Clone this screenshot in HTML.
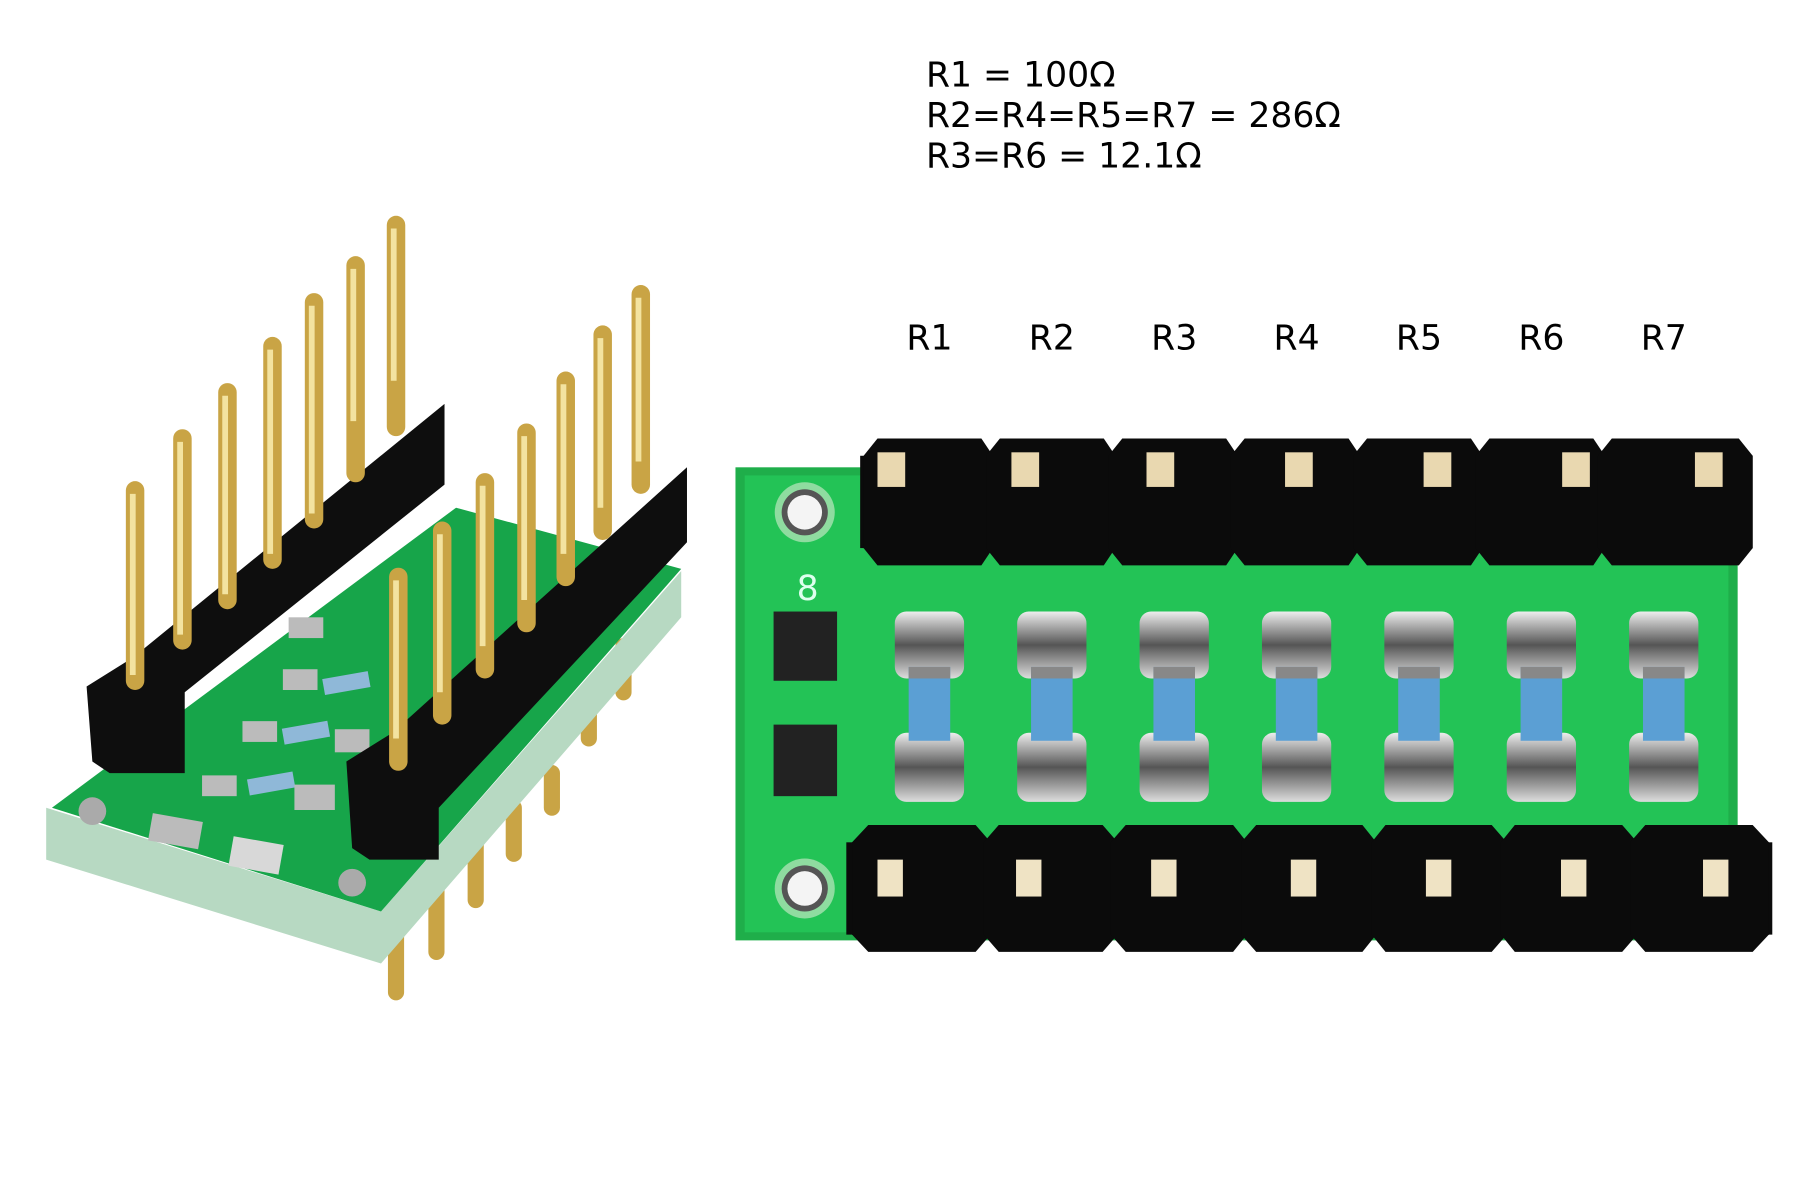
<!DOCTYPE html>
<html><head><meta charset="utf-8"><style>
html,body{margin:0;padding:0;background:#fff;width:1800px;height:1200px;overflow:hidden}
svg{display:block}
text{font-family:"DejaVu Sans","Liberation Sans",sans-serif;fill:#000}
</style></head><body>
<svg width="1800" height="1200" viewBox="0 0 1559 1040" preserveAspectRatio="none" xmlns="http://www.w3.org/2000/svg">
<defs>
<linearGradient id="sil" x1="0" y1="0" x2="0" y2="1"><stop offset="0" stop-color="#eee"/><stop offset="0.5" stop-color="#555"/><stop offset="1" stop-color="#ddd"/></linearGradient>
</defs>
<text x="802" y="75" font-size="30">R1 = 100Ω</text>
<text x="802" y="110" font-size="30">R2=R4=R5=R7 = 286Ω</text>
<text x="802" y="145" font-size="30">R3=R6 = 12.1Ω</text>
<g font-size="30" text-anchor="middle">
<text x="805" y="303">R1</text><text x="911" y="303">R2</text><text x="1017" y="303">R3</text><text x="1123" y="303">R4</text><text x="1229" y="303">R5</text><text x="1335" y="303">R6</text><text x="1441" y="303">R7</text>
</g>

<rect x="637" y="405" width="868" height="410" fill="#1fae4a"/>
<rect x="645" y="412" width="852" height="396" fill="#23c356"/>
<circle cx="697" cy="444" r="26" fill="#8fdca0"/><circle cx="697" cy="444" r="20" fill="#555"/><circle cx="697" cy="444" r="15" fill="#f4f4f4"/>
<circle cx="697" cy="770" r="26" fill="#8fdca0"/><circle cx="697" cy="770" r="20" fill="#555"/><circle cx="697" cy="770" r="15" fill="#f4f4f4"/>
<rect x="670" y="530" width="55" height="60" fill="#222"/>
<rect x="670" y="628" width="55" height="62" fill="#222"/>
<text x="690" y="520" font-size="30" style="fill:#dfe">8</text>
<g>
<g transform="translate(805,0)"><rect x="-30" y="530" width="60" height="58" rx="10" fill="url(#sil)"/><rect x="-30" y="635" width="60" height="60" rx="10" fill="url(#sil)"/><rect x="-18" y="578" width="36" height="64" fill="#5b9fd4"/><rect x="-18" y="578" width="36" height="10" fill="#888"/></g>
<g transform="translate(911,0)"><rect x="-30" y="530" width="60" height="58" rx="10" fill="url(#sil)"/><rect x="-30" y="635" width="60" height="60" rx="10" fill="url(#sil)"/><rect x="-18" y="578" width="36" height="64" fill="#5b9fd4"/><rect x="-18" y="578" width="36" height="10" fill="#888"/></g>
<g transform="translate(1017,0)"><rect x="-30" y="530" width="60" height="58" rx="10" fill="url(#sil)"/><rect x="-30" y="635" width="60" height="60" rx="10" fill="url(#sil)"/><rect x="-18" y="578" width="36" height="64" fill="#5b9fd4"/><rect x="-18" y="578" width="36" height="10" fill="#888"/></g>
<g transform="translate(1123,0)"><rect x="-30" y="530" width="60" height="58" rx="10" fill="url(#sil)"/><rect x="-30" y="635" width="60" height="60" rx="10" fill="url(#sil)"/><rect x="-18" y="578" width="36" height="64" fill="#5b9fd4"/><rect x="-18" y="578" width="36" height="10" fill="#888"/></g>
<g transform="translate(1229,0)"><rect x="-30" y="530" width="60" height="58" rx="10" fill="url(#sil)"/><rect x="-30" y="635" width="60" height="60" rx="10" fill="url(#sil)"/><rect x="-18" y="578" width="36" height="64" fill="#5b9fd4"/><rect x="-18" y="578" width="36" height="10" fill="#888"/></g>
<g transform="translate(1335,0)"><rect x="-30" y="530" width="60" height="58" rx="10" fill="url(#sil)"/><rect x="-30" y="635" width="60" height="60" rx="10" fill="url(#sil)"/><rect x="-18" y="578" width="36" height="64" fill="#5b9fd4"/><rect x="-18" y="578" width="36" height="10" fill="#888"/></g>
<g transform="translate(1441,0)"><rect x="-30" y="530" width="60" height="58" rx="10" fill="url(#sil)"/><rect x="-30" y="635" width="60" height="60" rx="10" fill="url(#sil)"/><rect x="-18" y="578" width="36" height="64" fill="#5b9fd4"/><rect x="-18" y="578" width="36" height="10" fill="#888"/></g>
</g>
<rect x="745" y="395" width="773" height="80" fill="#0b0b0b"/>
<g fill="#0b0b0b">
<polygon points="760,380 850,380 860,395 860,475 850,490 760,490 748,475 748,395"/>
<polygon points="866,380 956,380 966,395 966,475 956,490 866,490 854,475 854,395"/>
<polygon points="972,380 1062,380 1072,395 1072,475 1062,490 972,490 960,475 960,395"/>
<polygon points="1078,380 1168,380 1178,395 1178,475 1168,490 1078,490 1066,475 1066,395"/>
<polygon points="1184,380 1274,380 1284,395 1284,475 1274,490 1184,490 1172,475 1172,395"/>
<polygon points="1290,380 1380,380 1390,395 1390,475 1380,490 1290,490 1278,475 1278,395"/>
<polygon points="1396,380 1506,380 1518,395 1518,475 1506,490 1396,490 1384,475 1384,395"/>
</g>
<g fill="#e9d8b0">
<rect x="760" y="392" width="24" height="30"/><rect x="876" y="392" width="24" height="30"/><rect x="993" y="392" width="24" height="30"/><rect x="1113" y="392" width="24" height="30"/><rect x="1233" y="392" width="24" height="30"/><rect x="1353" y="392" width="24" height="30"/><rect x="1468" y="392" width="24" height="30"/>
</g>
<rect x="733" y="730" width="802" height="80" fill="#0b0b0b"/>
<g fill="#0b0b0b">
<polygon points="752,715 845,715 858,730 858,810 845,825 752,825 738,810 738,730"/>
<polygon points="865,715 955,715 968,730 968,810 955,825 865,825 852,810 852,730"/>
<polygon points="975,715 1068,715 1080,730 1080,810 1068,825 975,825 962,810 962,730"/>
<polygon points="1088,715 1180,715 1192,730 1192,810 1180,825 1088,825 1075,810 1075,730"/>
<polygon points="1200,715 1292,715 1305,730 1305,810 1292,825 1200,825 1188,810 1188,730"/>
<polygon points="1312,715 1405,715 1418,730 1418,810 1405,825 1312,825 1300,810 1300,730"/>
<polygon points="1425,715 1518,715 1532,730 1532,810 1518,825 1425,825 1412,810 1412,730"/>
</g>
<g fill="#efe3c4">
<rect x="760" y="745" width="22" height="32"/><rect x="880" y="745" width="22" height="32"/><rect x="997" y="745" width="22" height="32"/><rect x="1118" y="745" width="22" height="32"/><rect x="1235" y="745" width="22" height="32"/><rect x="1352" y="745" width="22" height="32"/><rect x="1475" y="745" width="22" height="32"/>
</g>

<!-- left module -->
<g stroke="#c9a445" stroke-width="14" stroke-linecap="round">
<line x1="343" y1="790" x2="343" y2="860"/><line x1="378" y1="760" x2="378" y2="825"/><line x1="412" y1="730" x2="412" y2="780"/><line x1="445" y1="700" x2="445" y2="740"/><line x1="478" y1="670" x2="478" y2="700"/><line x1="510" y1="600" x2="510" y2="640"/><line x1="540" y1="560" x2="540" y2="600"/>
</g>
<polygon points="40,745 330,835 590,535 590,495 330,790 40,700" fill="#b7d9c2"/>
<polygon points="45,700 395,440 590,493 330,790" fill="#17a54a"/>
<circle cx="80" cy="703" r="12" fill="#aaa"/><circle cx="305" cy="765" r="12" fill="#aaa"/>
<rect x="130" y="708" width="44" height="24" fill="#bbb" transform="rotate(10 150 720)"/>
<rect x="200" y="728" width="44" height="26" fill="#d8d8d8" transform="rotate(10 220 740)"/>
<g fill="#8fb8d8">
<rect x="215" y="672" width="40" height="14" transform="rotate(-10 235 680)"/>
<rect x="245" y="628" width="40" height="14" transform="rotate(-10 265 635)"/>
<rect x="280" y="585" width="40" height="14" transform="rotate(-10 300 592)"/>
</g>
<g fill="#bbb">
<rect x="175" y="672" width="30" height="18"/><rect x="255" y="680" width="35" height="22"/>
<rect x="210" y="625" width="30" height="18"/><rect x="290" y="632" width="30" height="20"/>
<rect x="245" y="580" width="30" height="18"/><rect x="250" y="535" width="30" height="18"/>
</g>
<polygon points="75,595 115,570 385,350 385,420 160,600 160,670 95,670 80,660" fill="#0e0e0e"/>
<g stroke="#c9a445" stroke-width="16" stroke-linecap="round">
<line x1="117" y1="425" x2="117" y2="590"/><line x1="158" y1="380" x2="158" y2="555"/><line x1="197" y1="340" x2="197" y2="520"/><line x1="236" y1="300" x2="236" y2="485"/><line x1="272" y1="262" x2="272" y2="450"/><line x1="308" y1="230" x2="308" y2="410"/><line x1="343" y1="195" x2="343" y2="370"/>
</g>
<g stroke="#f3e3a0" stroke-width="5">
<line x1="115" y1="428" x2="115" y2="585"/><line x1="156" y1="383" x2="156" y2="550"/><line x1="195" y1="343" x2="195" y2="515"/><line x1="234" y1="303" x2="234" y2="480"/><line x1="270" y1="265" x2="270" y2="445"/><line x1="306" y1="233" x2="306" y2="365"/><line x1="341" y1="198" x2="341" y2="330"/>
</g>
<polygon points="300,660 340,635 595,405 595,470 380,700 380,745 320,745 305,735" fill="#0e0e0e"/>
<g stroke="#c9a445" stroke-width="16" stroke-linecap="round">
<line x1="345" y1="500" x2="345" y2="660"/><line x1="383" y1="460" x2="383" y2="620"/><line x1="420" y1="418" x2="420" y2="580"/><line x1="456" y1="375" x2="456" y2="540"/><line x1="490" y1="330" x2="490" y2="500"/><line x1="522" y1="290" x2="522" y2="460"/><line x1="555" y1="255" x2="555" y2="420"/>
</g>
<g stroke="#f3e3a0" stroke-width="5">
<line x1="343" y1="503" x2="343" y2="640"/><line x1="381" y1="463" x2="381" y2="600"/><line x1="418" y1="421" x2="418" y2="560"/><line x1="454" y1="378" x2="454" y2="520"/><line x1="488" y1="333" x2="488" y2="480"/><line x1="520" y1="293" x2="520" y2="440"/><line x1="553" y1="258" x2="553" y2="400"/>
</g>
</svg>
</body></html>
